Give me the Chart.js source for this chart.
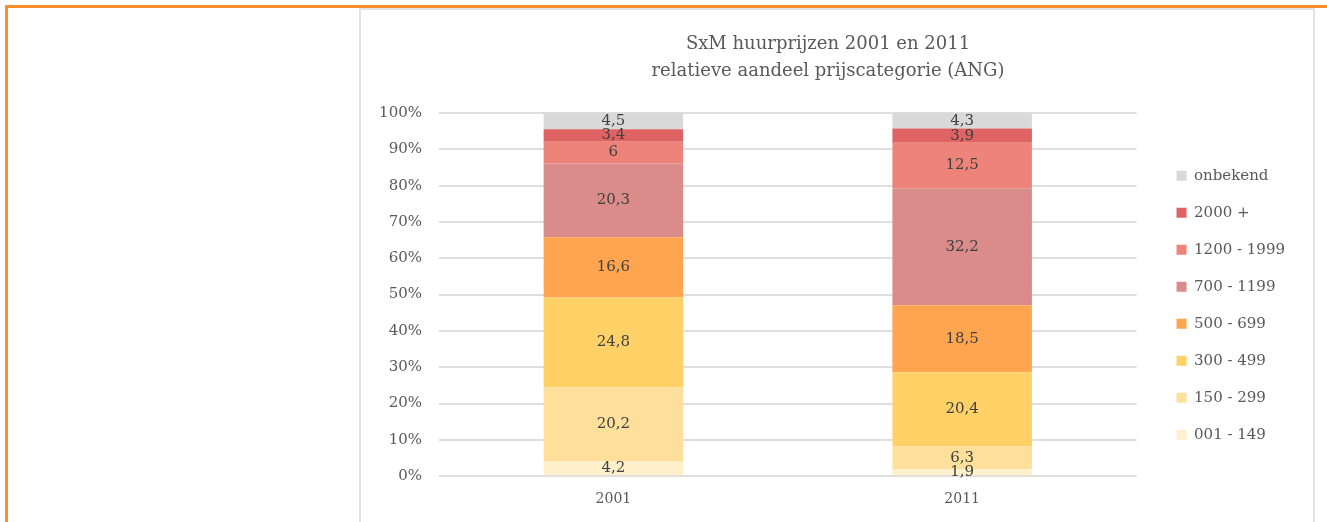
<!DOCTYPE html>
<html>
<head>
<meta charset="utf-8">
<script src="https://cdn.jsdelivr.net/npm/chart.js@4.4.0/dist/chart.umd.min.js"></script>
<style>
  body { margin: 0; background: #fff; width: 1327px; height: 522px; overflow: hidden; position: relative; }
  #frame { position: absolute; left: 5px; top: 5px; right: 0; bottom: -10px; border-left: 3px solid #fd8c2a; border-top: 3px solid #fd8c2a; }
  #panel { position: absolute; left: 359px; top: 8px; width: 956px; height: 540px; border: 2px solid #e2e2e2; box-sizing: border-box; background: #fff; }
  #wrap { position: absolute; left: 361px; top: 10px; width: 952px; height: 512px; }
</style>
</head>
<body>
<div id="frame"></div>
<div id="panel"></div>
<div id="wrap"><canvas id="grafico-huurprijzen"></canvas></div>
<script>
// jaren (categorieen)
var jaren = ['2001', '2011'];

// prijscategorieen, van onder naar boven gestapeld
var categorieen = ['001 - 149', '150 - 299', '300 - 499', '500 - 699', '700 - 1199', '1200 - 1999', '2000 +', 'onbekend'];
var kleuren = ['#fff0cb', '#fee09b', '#ffd166', '#ffa44f', '#d98c8a', '#ee837a', '#e06363', '#d9d9d9'];

// aandeel in % per jaar
var aandeel2001 = [4.2, 20.2, 24.8, 16.6, 20.3, 6, 3.4, 4.5];
var aandeel2011 = [1.9, 6.3, 20.4, 18.5, 32.2, 12.5, 3.9, 4.3];

var yTicks = [0, 10, 20, 30, 40, 50, 60, 70, 80, 90, 100];

Chart.defaults.font.family = '"DejaVu Serif", serif';
Chart.defaults.color = '#595959';

var datasets = categorieen.map(function (naam, i) {
    return {
        label: naam,
        data: [aandeel2001[i], aandeel2011[i]],
        backgroundColor: kleuren[i],
        borderWidth: 0,
        categoryPercentage: 1,
        barPercentage: 0.4
    };
});

// labels in het midden van elk segment (komma als decimaalteken)
var segmentLabels = {
    id: 'segmentLabels',
    afterDatasetsDraw: function (chart) {
        var ctx = chart.ctx;
        ctx.save();
        ctx.font = '15px "DejaVu Serif", serif';
        ctx.fillStyle = '#404040';
        ctx.textAlign = 'center';
        ctx.textBaseline = 'middle';
        chart.data.datasets.forEach(function (ds, i) {
            chart.getDatasetMeta(i).data.forEach(function (bar, j) {
                var p = bar.getCenterPoint();
                ctx.fillText(String(ds.data[j]).replace('.', ','), p.x, p.y);
            });
        });
        ctx.restore();
    }
};

var ctx = document.getElementById('grafico-huurprijzen').getContext('2d');
var grafiek = new Chart(ctx, {
    type: 'bar',
    data: { labels: jaren, datasets: datasets },
    plugins: [segmentLabels],
    options: {
        responsive: true,
        maintainAspectRatio: false,
        animation: false,
        layout: { padding: { left: 0, right: 18, top: 0, bottom: 7 } },
        plugins: {
            title: {
                display: true,
                text: ['SxM huurprijzen 2001 en 2011', 'relatieve aandeel prijscategorie (ANG)'],
                font: { size: 18, weight: 'normal', lineHeight: 1.5 },
                color: '#595959',
                padding: { top: 21, bottom: 28 }
            },
            legend: {
                position: 'right',
                fullSize: false,
                reverse: true,
                title: { display: true, text: '', padding: { top: 3, bottom: 4 } },
                labels: { boxWidth: 10, boxHeight: 10, padding: 22, font: { size: 15 }, color: '#595959' }
            },
            tooltip: { enabled: false }
        },
        scales: {
            x: {
                stacked: true,
                grid: { display: false },
                border: { display: false },
                ticks: { font: { size: 14 }, padding: 7, color: '#595959' }
            },
            y: {
                stacked: true,
                min: 0,
                max: 100,
                afterBuildTicks: function (s) { s.ticks = yTicks.map(function (v) { return { value: v }; }); },
                afterFit: function (s) { s.width = 78; },
                grid: { color: '#dedede', lineWidth: 2, drawTicks: false },
                border: { display: false },
                ticks: { font: { size: 15 }, padding: 17, color: '#595959', callback: function (v) { return v + '%'; } }
            },
            ruimte: {
                position: 'right',
                display: true,
                grid: { display: false },
                border: { display: false },
                ticks: { display: false },
                afterFit: function (s) { s.width = 18; }
            }
        }
    }
});
</script>
</body>
</html>
